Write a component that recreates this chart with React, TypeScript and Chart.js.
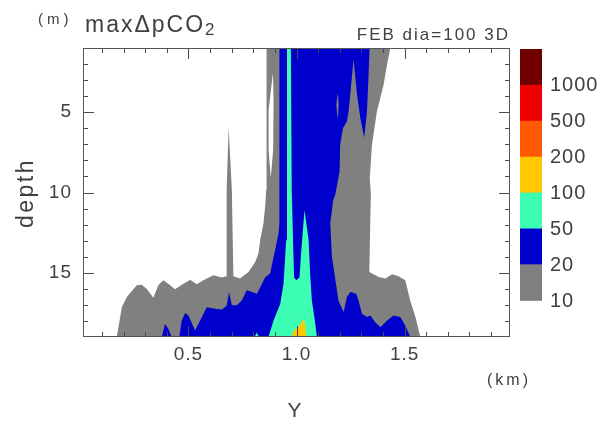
import React, { useEffect, useRef } from "react";
import { Chart, registerables } from "chart.js";

Chart.register(...registerables);

type P = [number, number];

// axis ticks
const xTickValues = [0.5, 1.0, 1.5];
const xTickLabels = ["0.5", "1.0", "1.5"];
const yTickValues = [5, 10, 15];
const yTickLabels = ["5", "10", "15"];
const xMinorTicks = [0.1, 0.2, 0.3, 0.4, 0.5, 0.6, 0.7, 0.8, 0.9, 1.0, 1.1, 1.2, 1.3, 1.4, 1.5, 1.6, 1.7, 1.8, 1.9];
const yMinorTicks = [2, 3, 4, 5, 6, 7, 8, 9, 10, 11, 12, 13, 14, 15, 16, 17, 18];

// colour levels (top to bottom of the colour bar)
const levelLabels = ["1000", "500", "200", "100", "50", "20", "10"];
const levelColors = ["#700000", "#ee0000", "#ff5a00", "#ffc800", "#3cffb4", "#0000cd", "#808080"];

// contour regions (Y km, depth m)
const gray10: P[] = [
  [0.169, 19], [0.192, 17.14], [0.215, 16.51], [0.261, 15.78], [0.284, 15.74], [0.307, 15.99],
  [0.338, 16.55], [0.361, 15.78], [0.384, 15.47], [0.407, 15.68], [0.438, 16.03], [0.477, 15.68],
  [0.508, 15.43], [0.539, 15.72], [0.569, 15.47], [0.616, 15.16], [0.655, 15.3], [0.675, 15.22],
  [0.677, 9.84], [0.686, 5.97], [0.701, 9.84], [0.708, 15.22], [0.739, 15.36], [0.778, 14.95],
  [0.809, 14.33], [0.824, 13.8], [0.832, 12.97], [0.847, 11.93], [0.855, 10.89], [0.86, 9.84],
  [0.86, 4.97], [0.863, 1], [1.434, 1], [1.419, 2.03], [1.403, 3.28], [1.372, 4.95], [1.349, 7.03],
  [1.339, 9.11], [1.344, 10.16], [1.341, 11.91], [1.337, 14.95], [1.38, 15.26], [1.411, 15.36],
  [1.442, 15.09], [1.472, 15.22], [1.503, 15.47], [1.526, 16.72], [1.55, 17.76], [1.573, 19],
];
const whiteHole: P[] = [
  [0.891, 2.55], [0.894, 4.22], [0.892, 7.34], [0.881, 9.09], [0.871, 7.34], [0.871, 4.84],
];
const blue20: P[] = [
  [0.458, 19], [0.469, 17.97], [0.485, 17.5], [0.5, 17.66], [0.531, 18.59], [0.554, 17.97],
  [0.585, 17.14], [0.624, 17.24], [0.655, 17.28], [0.677, 17.06], [0.688, 16.22], [0.701, 17.03],
  [0.724, 17.03], [0.747, 16.72], [0.77, 16.09], [0.794, 16.2], [0.817, 16.3], [0.832, 15.91],
  [0.855, 15.28], [0.878, 15.05], [0.894, 14.01], [0.901, 13.59], [0.917, 12.55], [0.921, 11.91],
  [0.921, 1], [1.338, 1], [1.333, 2.84], [1.326, 4.95], [1.313, 6.59], [1.295, 5.34], [1.28, 3.91],
  [1.264, 1.72], [1.256, 2.84], [1.241, 4.95], [1.233, 5.58], [1.215, 5.99], [1.202, 7.03],
  [1.199, 8.7], [1.179, 10.16], [1.17, 10.47], [1.156, 11.93], [1.164, 14.01], [1.194, 16.72],
  [1.218, 17.45], [1.233, 16.51], [1.249, 16.2], [1.276, 16.3], [1.287, 16.72], [1.303, 17.55],
  [1.326, 17.76], [1.341, 17.66], [1.364, 18.08], [1.388, 18.39], [1.419, 17.97], [1.449, 17.66],
  [1.48, 17.76], [1.503, 18.28], [1.526, 19],
];
const blueBlob: P[] = [[0.377, 19], [0.392, 18.18], [0.406, 18.47], [0.423, 19]];
const graySliver: P[] = [[1.191, 3.78], [1.195, 4.53], [1.191, 5.47], [1.184, 4.53]];
const aqua50: P[] = [
  [0.87, 19], [0.894, 17.97], [0.925, 16.93], [0.94, 15.68], [0.952, 12.97], [0.956, 9.84],
  [0.956, 1], [0.974, 1], [0.978, 9.84], [0.982, 11.91], [0.986, 14.01], [0.989, 15.3],
  [0.999, 15.47], [1.014, 15.3], [1.02, 14.01], [1.032, 11.93], [1.037, 11.09], [1.056, 12.97],
  [1.063, 15.05], [1.071, 16.72], [1.087, 18.18], [1.094, 19],
];
const aquaBit: P[] = [[0.806, 19], [0.816, 18.72], [0.827, 19]];
const gold100: P[] = [
  [0.979, 19], [0.986, 18.59], [1.009, 18.39], [1.025, 18.08], [1.032, 17.86], [1.04, 18.18], [1.045, 19],
];

const FONT = "'Liberation Sans', Arial, sans-serif";
const TEXT = "#404040";

const shape = (data: P[], color: string, order: number) => ({
  data: data.map(([x, y]) => ({ x, y })),
  backgroundColor: color,
  borderColor: color,
  borderWidth: 0,
  pointRadius: 0,
  pointHoverRadius: 0,
  fill: "shape",
  tension: 0,
  order,
});

const decor = {
  id: "decor",
  beforeDraw(chart: any) {
    chart.ctx.letterSpacing = "1px";
  },
  afterDraw(chart: any) {
    const ctx: CanvasRenderingContext2D = chart.ctx;
    const a = chart.chartArea;
    const xs = chart.scales["x"];
    const ys = chart.scales["y"];
    const L = Math.round(a.left);
    const R = Math.round(a.right);
    const T = Math.round(a.top);
    const B = Math.round(a.bottom);
    ctx.save();
    // inward ticks on all four sides
    ctx.fillStyle = "#4a4a4a";
    for (let i = 0; i < xMinorTicks.length; i++) {
      const v = xMinorTicks[i];
      const px = Math.round(xs.getPixelForValue(v));
      const len = xTickValues.some((t) => Math.abs(t - v) < 1e-6) ? 11 : 5;
      ctx.fillRect(px, B - len, 1, len);
      ctx.fillRect(px, T, 1, len);
    }
    for (let i = 0; i < yMinorTicks.length; i++) {
      const v = yMinorTicks[i];
      const py = Math.round(ys.getPixelForValue(v));
      const len = yTickValues.indexOf(v) >= 0 ? 11 : 5;
      ctx.fillRect(L, py, len, 1);
      ctx.fillRect(R - len, py, len, 1);
    }
    // frame
    ctx.fillStyle = "#555555";
    ctx.fillRect(L, T, R - L, 1);
    ctx.fillRect(L, B - 1, R - L, 1);
    ctx.fillRect(L, T, 1, B - T);
    ctx.fillRect(R - 1, T, 1, B - T);

    // colour bar
    const cbLeft = a.right + 10;
    const cbTop = a.top + 1;
    const bandH = 35.9;
    levelColors.forEach((c, i) => {
      ctx.fillStyle = c;
      ctx.fillRect(cbLeft, cbTop + i * bandH, 22, bandH + 0.5);
    });
    ctx.fillStyle = TEXT;
    ctx.font = `20px ${FONT}`;
    ctx.textAlign = "left";
    ctx.textBaseline = "middle";
    (ctx as any).letterSpacing = "1px";
    levelLabels.forEach((l, i) => {
      ctx.fillText(l, cbLeft + 30, cbTop + (i + 1) * bandH + 1);
    });
    // titles
    ctx.textBaseline = "alphabetic";
    (ctx as any).letterSpacing = "4px";
    ctx.font = `15px ${FONT}`;
    ctx.fillText("(m)", 38, 23.5);
    (ctx as any).letterSpacing = "2px";
    ctx.font = `23px ${FONT}`;
    ctx.fillText("maxΔpCO", 85, 32);
    const w = ctx.measureText("maxΔpCO").width;
    ctx.font = `17px ${FONT}`;
    ctx.fillText("2", 85 + w, 34.5);
    ctx.textAlign = "right";
    ctx.fillText("FEB dia=100 3D", 510, 40);
    ctx.textAlign = "left";
    (ctx as any).letterSpacing = "3px";
    ctx.font = `16px ${FONT}`;
    ctx.fillText("(km)", 487, 385);
    (ctx as any).letterSpacing = "1px";
    ctx.textAlign = "center";
    ctx.font = `21px ${FONT}`;
    ctx.fillText("Y", 295, 416.5);
    ctx.translate(27, 193);
    ctx.rotate(-Math.PI / 2);
    (ctx as any).letterSpacing = "2.5px";
    ctx.font = `23px ${FONT}`;
    ctx.textBaseline = "middle";
    ctx.fillText("depth", 0, 0);
    ctx.restore();
  },
};

export default function App() {
  const ref = useRef<HTMLCanvasElement | null>(null);
  useEffect(() => {
    if (!ref.current) return;
    const chart = new Chart(ref.current, {
      type: "line",
      data: {
        datasets: [
          shape(gray10, levelColors[6], 10),
          shape(whiteHole, "#ffffff", 9),
          shape(blue20, levelColors[5], 8),
          shape(blueBlob, levelColors[5], 8),
          shape(graySliver, levelColors[6], 7),
          shape(aqua50, levelColors[4], 6),
          shape(aquaBit, levelColors[4], 6),
          shape(gold100, levelColors[3], 5),
        ] as any,
      },
      options: {
        animation: false,
        responsive: false,
        events: [],
        layout: { padding: { left: 0, top: 48, right: 94, bottom: 0 } },
        plugins: { legend: { display: false }, tooltip: { enabled: false } },
        scales: {
          x: {
            type: "linear",
            min: 0.0125,
            max: 1.9875,
            grid: { display: false, drawTicks: false },
            border: { display: false },
            afterBuildTicks: (s: any) => {
              s.ticks = xTickValues.map((v) => ({ value: v }));
            },
            afterFit: (s: any) => {
              s.height = 88;
            },
            ticks: {
              autoSkip: false,
              maxRotation: 0,
              padding: 6,
              color: TEXT,
              font: { family: FONT, size: 19 },
              callback: (v: any) => xTickLabels[xTickValues.indexOf(Number(v))] ?? "",
            },
          },
          y: {
            type: "linear",
            reverse: true,
            min: 1,
            max: 19,
            grid: { display: false, drawTicks: false },
            border: { display: false },
            afterBuildTicks: (s: any) => {
              s.ticks = yTickValues.map((v) => ({ value: v }));
            },
            afterFit: (s: any) => {
              s.width = 83;
            },
            ticks: {
              autoSkip: false,
              padding: 11,
              color: TEXT,
              font: { family: FONT, size: 19 },
              callback: (v: any) => yTickLabels[yTickValues.indexOf(Number(v))] ?? "",
            },
          },
        },
      },
      plugins: [decor],
    });
    return () => chart.destroy();
  }, []);
  return (
    <div style={{ position: "absolute", left: 0, top: 0, width: 604, height: 425, background: "#ffffff" }}>
      <canvas ref={ref} width={604} height={425} />
    </div>
  );
}
